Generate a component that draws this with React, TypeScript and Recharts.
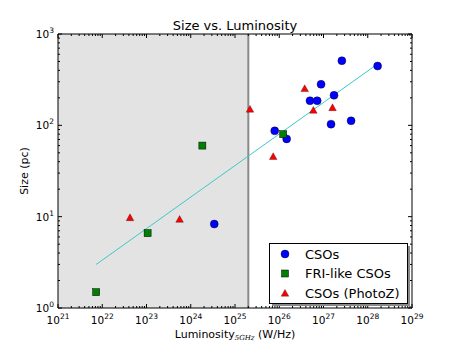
import { Label, Legend, ReferenceArea, ReferenceLine, Scatter, ScatterChart, XAxis, YAxis } from 'recharts';

const FONT = '"DejaVu Sans", Verdana, sans-serif';

// luminosity at 5 GHz (W/Hz) and projected size (pc)
const CSO_LUM = [3.4e24, 7.9e25, 1.47e26, 4.95e26, 7.2e26, 8.8e26, 1.73e27, 1.48e27, 4.2e27, 2.6e27, 1.67e28];
const CSO_SIZE = [8.3, 87, 71, 186, 186, 281, 213, 103, 112, 510, 446];

const FRI_LUM = [7.3e21, 1.06e23, 1.83e24, 1.23e26];
const FRI_SIZE = [1.49, 6.6, 60, 80];

const PHOTOZ_LUM = [4.24e22, 5.6e23, 2.18e25, 7.3e25, 3.76e26, 5.9e26, 1.6e27];
const PHOTOZ_SIZE = [9.8, 9.4, 151, 45.8, 254, 147, 157];

const FIT_LUM = [7.3e21, 1.67e28];
const FIT_SIZE = [3.0, 470];

const CUT_LUM = 2e25;

const X_EXPONENTS = [21, 22, 23, 24, 25, 26, 27, 28, 29];
const Y_EXPONENTS = [0, 1, 2, 3];
const MINOR_STEPS = [2, 3, 4, 5, 6, 7, 8, 9];

const zip = (xs: number[], ys: number[]) => xs.map((x, i) => ({ x, y: ys[i] }));

function logTicks(exps: number[]) {
  const out: number[] = [];
  exps.forEach((e, i) => {
    out.push(10 ** e);
    if (i < exps.length - 1) MINOR_STEPS.forEach((m) => out.push(m * 10 ** e));
  });
  return out;
}

const X_TICKS = logTicks(X_EXPONENTS);
const Y_TICKS = logTicks(Y_EXPONENTS);

function Power({ exp, x, y, anchor }: { exp: number; x: number; y: number; anchor: 'middle' | 'end' }) {
  return (
    <text x={x} y={y} textAnchor={anchor} fontFamily={FONT} fontSize={10.5} fill="#000">
      10
      <tspan dy={-5} fontSize={7.5}>
        {exp}
      </tspan>
    </text>
  );
}

function AxisTick(props: any) {
  const { x, y, payload, side } = props;
  const lg = Math.log10(payload.value);
  const exp = Math.round(lg);
  const major = Math.abs(lg - exp) < 1e-6;
  const len = major ? 4 : 2;
  let line;
  if (side === 'bottom') line = <line x1={x} x2={x} y1={y} y2={y - len} stroke="#000" />;
  else if (side === 'top') line = <line x1={x} x2={x} y1={y} y2={y + len} stroke="#000" />;
  else if (side === 'left') line = <line x1={x} x2={x + len} y1={y} y2={y} stroke="#000" />;
  else line = <line x1={x} x2={x - len} y1={y} y2={y} stroke="#000" />;
  return (
    <g>
      {line}
      {major && side === 'bottom' && <Power exp={exp} x={x} y={y + 16} anchor="middle" />}
      {major && side === 'left' && <Power exp={exp} x={x - 4} y={y + 4} anchor="end" />}
    </g>
  );
}

const circle = (p: any) => <circle cx={p.cx} cy={p.cy} r={4} fill="#0000ff" stroke="#000" strokeWidth={0.4} />;
const square = (p: any) => (
  <rect x={p.cx - 3.5} y={p.cy - 3.5} width={7} height={7} fill="#008000" stroke="#000" strokeWidth={0.5} />
);
const triangle = (p: any) => (
  <polygon
    points={`${p.cx},${p.cy - 3.6} ${p.cx - 3.8},${p.cy + 3.2} ${p.cx + 3.8},${p.cy + 3.2}`}
    fill="#ff0000"
    stroke="#000"
    strokeWidth={0.3}
  />
);
const nothing = () => <g />;

const LEGEND = [
  { name: 'CSOs', shape: circle },
  { name: 'FRI-like CSOs', shape: square },
  { name: 'CSOs (PhotoZ)', shape: triangle },
];

function LegendBox() {
  return (
    <svg width={144} height={66}>
      <rect x={3} y={3} width={138} height={60} fill="#8a8a8a" />
      <rect x={0.5} y={0.5} width={138} height={60} fill="#fff" stroke="#000" />
      {LEGEND.map((item, i) => (
        <g key={item.name}>
          {item.shape({ cx: 16, cy: 11 + i * 19.5 })}
          <text x={36} y={11 + i * 19.5} dy="0.36em" fontFamily={FONT} fontSize={13} fill="#000">
            {item.name}
          </text>
        </g>
      ))}
    </svg>
  );
}

function XTitle({ viewBox }: any) {
  const cx = viewBox.x + viewBox.width / 2;
  return (
    <text x={cx} y={viewBox.y + 30} textAnchor="middle" fontFamily={FONT} fontSize={11} fill="#000">
      Luminosity
      <tspan dy={2} fontSize={7} fontStyle="italic" fontFamily='"DejaVu Serif", serif'>
        5GHz
      </tspan>
      <tspan dy={-2}> (W/Hz)</tspan>
    </text>
  );
}

function ChartTitle({ viewBox }: any) {
  return (
    <text
      x={viewBox.x + viewBox.width / 2}
      y={viewBox.y + viewBox.height - 4}
      textAnchor="middle"
      fontFamily={FONT}
      fontSize={13}
      fill="#000"
    >
      Size vs. Luminosity
    </text>
  );
}

function YTitle({ viewBox }: any) {
  const cy = viewBox.y + viewBox.height / 2;
  return (
    <text x={28} y={cy} transform={`rotate(-90 28 ${cy})`} textAnchor="middle" fontFamily={FONT} fontSize={11} fill="#000">
      Size (pc)
    </text>
  );
}

export default function App() {
  const xCommon = {
    type: 'number' as const,
    dataKey: 'x',
    scale: 'log' as const,
    domain: [1e21, 1e29],
    allowDataOverflow: true,
    ticks: X_TICKS,
    interval: 0,
    tickLine: false,
    tickSize: 0,
    tickMargin: 0,
    axisLine: { stroke: '#000' },
  };
  const yCommon = {
    type: 'number' as const,
    dataKey: 'y',
    scale: 'log' as const,
    domain: [1, 1000],
    allowDataOverflow: true,
    ticks: Y_TICKS,
    interval: 0,
    tickLine: false,
    tickSize: 0,
    tickMargin: 0,
    axisLine: { stroke: '#000' },
  };
  return (
    <div style={{ position: 'absolute', left: 0, top: 0, background: '#fff' }}>
      <ScatterChart width={457} height={343} margin={{ top: 33, right: 44, bottom: 0, left: 0 }}>
        <XAxis {...xCommon} xAxisId="b" orientation="bottom" height={35} tick={(p: any) => <AxisTick {...p} side="bottom" />}>
          <Label content={XTitle} />
        </XAxis>
        <XAxis {...xCommon} xAxisId="t" orientation="top" height={1} tick={(p: any) => <AxisTick {...p} side="top" />}>
          <Label content={ChartTitle} />
        </XAxis>
        <YAxis {...yCommon} yAxisId="l" orientation="left" width={58} tick={(p: any) => <AxisTick {...p} side="left" />}>
          <Label content={YTitle} />
        </YAxis>
        <YAxis {...yCommon} yAxisId="r" orientation="right" width={1} tick={(p: any) => <AxisTick {...p} side="right" />} />
        <ReferenceArea xAxisId="b" yAxisId="l" x1={1e21} x2={CUT_LUM} y1={1} y2={1000} fill="#e3e3e3" fillOpacity={1} stroke="none" />
        <ReferenceLine xAxisId="b" yAxisId="l" x={CUT_LUM} stroke="#8a8a8a" strokeWidth={2} />
        <Scatter
          xAxisId="b"
          yAxisId="l"
          data={zip(FIT_LUM, FIT_SIZE)}
          line={{ stroke: '#3ec8c8', strokeWidth: 1 }}
          shape={nothing}
          isAnimationActive={false}
        />
        <Scatter xAxisId="b" yAxisId="l" name="CSOs" data={zip(CSO_LUM, CSO_SIZE)} shape={circle} isAnimationActive={false} />
        <Scatter xAxisId="b" yAxisId="l" name="FRI-like CSOs" data={zip(FRI_LUM, FRI_SIZE)} shape={square} isAnimationActive={false} />
        <Scatter xAxisId="b" yAxisId="l" name="CSOs (PhotoZ)" data={zip(PHOTOZ_LUM, PHOTOZ_SIZE)} shape={triangle} isAnimationActive={false} />
        <Legend
          content={LegendBox}
          layout="vertical"
          align="center"
          verticalAlign="middle"
          wrapperStyle={{ left: 269, top: 243, width: 144, height: 66 }}
        />
      </ScatterChart>
    </div>
  );
}
